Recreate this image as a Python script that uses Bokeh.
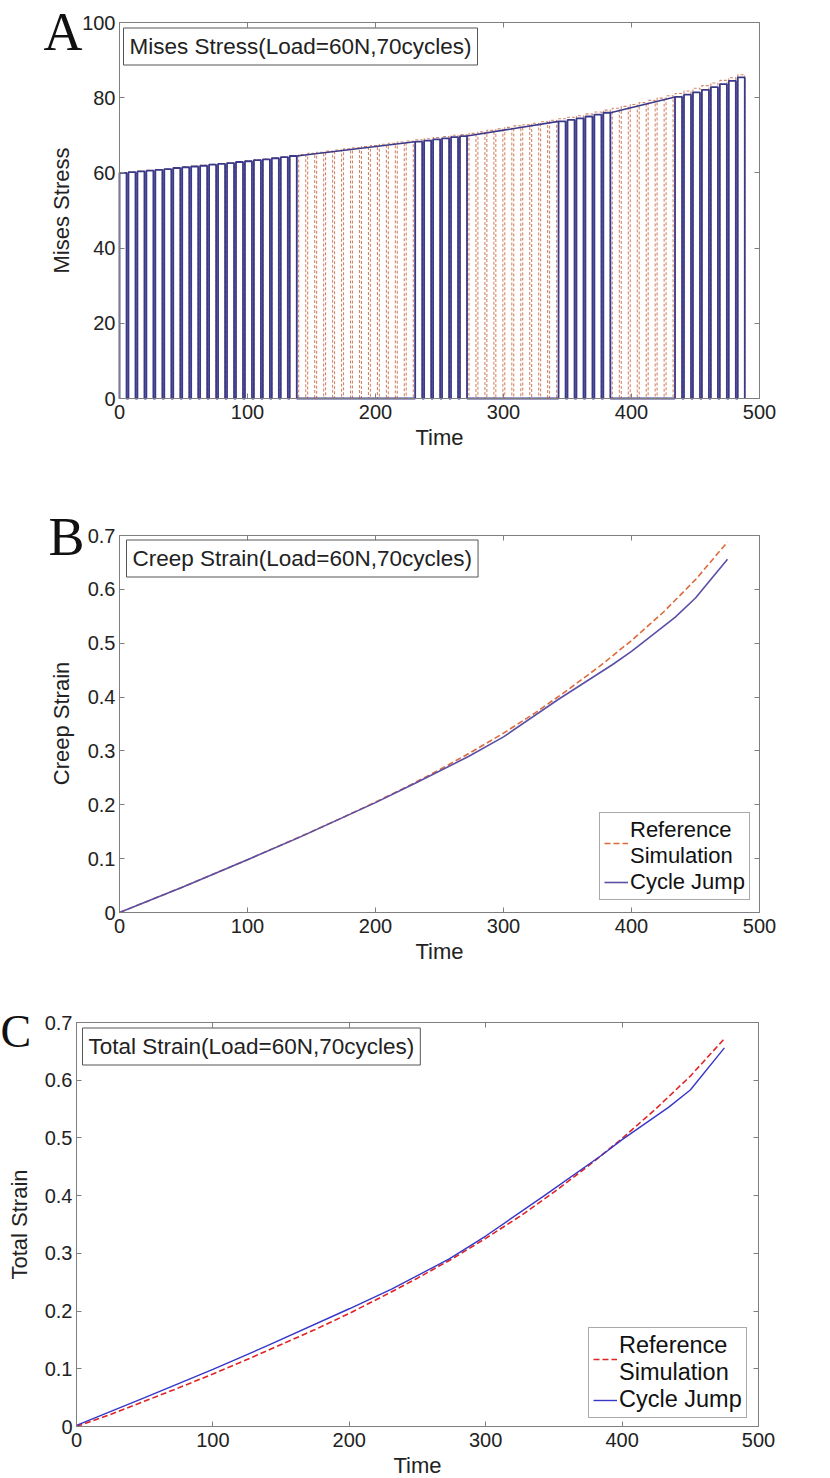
import math
from bokeh.plotting import figure
from bokeh.models import LinearAxis, Label, Legend, LegendItem, Range1d, FixedTicker
from bokeh.embed import file_html
from bokeh.resources import INLINE

# ---------------- data ----------------
# Panel A: Mises stress, 70 load cycles (cycle start times, hold length, period)
cycle_start = [0, 7, 14, 21, 28, 35, 42, 49, 56, 63, 70, 77, 84, 91, 98, 105, 112, 119, 126, 133,
               140, 147, 154, 161, 168, 175, 182, 189, 196, 203, 210, 217, 224, 231, 238, 245, 252,
               259, 266, 273, 280, 287, 294, 301, 308, 315, 322, 329, 336, 343, 350, 357, 364, 371,
               378, 385, 392, 399, 406, 413, 420, 427, 434, 441, 448, 455, 462, 469, 476, 483]
hold_time = 5.5
cycle_period = 7.0
ref_peak = [60.0, 60.2, 60.5, 60.7, 60.9, 61.1, 61.4, 61.6, 61.8, 62.0, 62.3, 62.5, 62.7, 63.0,
            63.2, 63.5, 63.7, 64.0, 64.3, 64.6, 64.9, 65.2, 65.5, 65.8, 66.1, 66.4, 66.7, 67.0,
            67.3, 67.6, 67.9, 68.2, 68.5, 68.8, 69.1, 69.4, 69.7, 70.0, 70.2, 70.5, 70.9, 71.3,
            71.7, 72.1, 72.5, 72.8, 73.2, 73.6, 74.0, 74.4, 74.8, 75.2, 75.7, 76.2, 76.7, 77.2,
            77.7, 78.2, 78.7, 79.3, 79.9, 80.5, 81.1, 81.8, 82.5, 83.2, 83.9, 84.6, 85.3, 86.1]
# cycles actually computed by the cycle-jump scheme (index into cycle_start) and their peaks
jump_blocks = [list(range(0, 20)), list(range(33, 39)), list(range(49, 55)), list(range(62, 70))]
jump_peak = {0: 60.0, 1: 60.2, 2: 60.4, 3: 60.6, 4: 60.8, 5: 61.0, 6: 61.3, 7: 61.5, 8: 61.7,
             9: 61.9, 10: 62.2, 11: 62.4, 12: 62.6, 13: 62.9, 14: 63.1, 15: 63.4, 16: 63.6,
             17: 63.9, 18: 64.2, 19: 64.5,
             33: 68.3, 34: 68.6, 35: 68.9, 36: 69.2, 37: 69.5, 38: 69.8,
             49: 73.7, 50: 74.1, 51: 74.5, 52: 75.0, 53: 75.5, 54: 76.0,
             62: 80.2, 63: 80.8, 64: 81.4, 65: 82.1, 66: 82.8, 67: 83.6, 68: 84.5, 69: 85.4}

# Panel B: creep strain
b_ref_t = [0, 25, 50, 75, 100, 125, 150, 175, 200, 225, 250, 275, 300, 325, 350, 375, 400, 425, 450, 475]
b_ref_v = [0.000, 0.024, 0.048, 0.073, 0.098, 0.124, 0.150, 0.177, 0.205, 0.234, 0.265, 0.298,
           0.333, 0.371, 0.413, 0.457, 0.505, 0.558, 0.618, 0.688]
b_cj_t = [0, 50, 100, 140, 200, 231, 273, 300, 343, 385, 400, 434, 450, 475]
b_cj_v = [0.000, 0.048, 0.098, 0.139, 0.204, 0.240, 0.290, 0.326, 0.396, 0.460, 0.485, 0.548, 0.584, 0.656]

# Panel C: total strain
c_ref_t = [0, 25, 50, 75, 100, 125, 150, 175, 200, 225, 250, 275, 300, 325, 350, 375, 400, 425, 450, 475]
c_ref_v = [0.000, 0.021, 0.044, 0.067, 0.091, 0.116, 0.142, 0.168, 0.196, 0.226, 0.257, 0.290,
           0.326, 0.364, 0.406, 0.451, 0.499, 0.551, 0.607, 0.672]
c_cj_t = [0, 50, 100, 140, 200, 231, 273, 300, 343, 385, 400, 434, 450, 475]
c_cj_v = [0.002, 0.050, 0.099, 0.140, 0.204, 0.238, 0.290, 0.330, 0.400, 0.470, 0.497, 0.553, 0.583, 0.656]

x_ticks = [0, 100, 200, 300, 400, 500]
a_y_ticks = [0, 20, 40, 60, 80, 100]
strain_ticks = [0, 0.1, 0.2, 0.3, 0.4, 0.5, 0.6, 0.7]

# ---------------- styling helpers ----------------
FONT = "Liberation Sans"
AX = "#7f7f7f"
W = 830


class Panel:
    """Figure whose frame fills the canvas; the visible box is drawn with fixed-location axes."""

    def __init__(self, H, px0, px1, py_top, py_bot, xmax, ymax):
        self.sx = xmax / (px1 - px0)
        self.xs = -px0 * self.sx
        self.sy = ymax / (py_bot - py_top)
        self.ys = -(H - py_bot) * self.sy
        self.ye = self.ys + H * self.sy
        self.xmax, self.ymax = xmax, ymax
        self.p = figure(width=W, height=H,
                        x_range=Range1d(self.xs, self.xs + W * self.sx),
                        y_range=Range1d(self.ys, self.ye),
                        output_backend="svg", toolbar_location=None, min_border=0)
        p = self.p
        p.xgrid.grid_line_color = None
        p.ygrid.grid_line_color = None
        p.outline_line_color = None
        p.background_fill_color = "white"
        p.border_fill_color = "white"

    def dx(self, px):
        return self.xs + px * self.sx

    def dy(self, py):
        return self.ye - py * self.sy

    def axes(self, xt, yt, yover=None):
        p = self.p
        xa, ya = p.xaxis[0], p.yaxis[0]
        xa.ticker = FixedTicker(ticks=xt)
        ya.ticker = FixedTicker(ticks=yt)
        if yover:
            ya.major_label_overrides = yover
        xa.fixed_location = 0
        ya.fixed_location = 0
        xa.bounds = (0, self.xmax)
        ya.bounds = (0, self.ymax)
        xa.major_label_standoff = 6
        ya.major_label_standoff = 4
        top = LinearAxis(ticker=FixedTicker(ticks=xt), fixed_location=self.ymax, bounds=(0, self.xmax))
        right = LinearAxis(ticker=FixedTicker(ticks=yt), fixed_location=self.xmax, bounds=(0, self.ymax))
        for ax in (top, right):
            ax.major_label_text_font_size = "0px"
            ax.major_label_standoff = 0
        p.add_layout(top, "above")
        p.add_layout(right, "right")
        for ax in (xa, ya, top, right):
            ax.axis_line_color = AX
            ax.major_tick_line_color = AX
            ax.major_tick_in = 5
            ax.major_tick_out = 0
            ax.minor_tick_line_color = None
        for ax in (xa, ya):
            ax.major_label_text_font = FONT
            ax.major_label_text_font_size = "20px"
            ax.major_label_text_color = "#222222"

    def text(self, px, py, text, size, font=FONT, align="left", baseline="middle", angle=0.0,
             color="#222222", box=False):
        kw = {}
        if box:
            kw = dict(border_line_color="#555555", border_line_width=1,
                      background_fill_color="white", padding=6)
        self.p.add_layout(Label(x=self.dx(px), y=self.dy(py), text=text, text_font=font,
                                text_font_size=size, text_color=color, text_align=align,
                                text_baseline=baseline, angle=angle, **kw))


def style_legend(lg, size):
    lg.label_text_font = FONT
    lg.label_text_font_size = size
    lg.label_text_color = "#111111"
    lg.border_line_color = "#555555"
    lg.background_fill_color = "white"
    lg.background_fill_alpha = 1.0
    lg.glyph_width = 24
    lg.label_standoff = 2
    lg.spacing = 0
    lg.padding = 4
    lg.margin = 0


# ---------------- Panel A ----------------
A = Panel(480, 119, 759, 22, 398, 500, 100)
A.axes(x_ticks, a_y_ticks)
pa = A.p

# reference simulation: every cycle
rx, ry = [], []
for t0, pk in zip(cycle_start, ref_peak):
    rx += [t0, t0, t0 + hold_time, t0 + hold_time, t0 + cycle_period]
    ry += [0, pk, pk, 0, 0]
pa.line(rx, ry, line_color="#d3876a", line_width=1.1, line_dash="3 2")

# cycle jump: computed cycles + straight jumps between blocks
bx, by = [], []
top_xs, top_ys = [], []
for bi, blk in enumerate(jump_blocks):
    for k in blk:
        t0 = cycle_start[k]
        pk = jump_peak[k]
        bx += [t0, t0, t0 + hold_time, t0 + hold_time]
        by += [0, pk, pk, 0]
    if bi + 1 < len(jump_blocks):
        kl = blk[-1]
        kn = jump_blocks[bi + 1][0]
        top_xs.append([cycle_start[kl] + hold_time, cycle_start[kn]])
        top_ys.append([jump_peak[kl], jump_peak[kn]])
pa.line(bx, by, line_color="#3b3989", line_width=1.8)
pa.multi_line(top_xs, top_ys, line_color="#3b3989", line_width=1.6)

A.text(123, 46, "Mises Stress(Load=60N,70cycles)", "22.5px", box=True)
A.text(43, 31, "A", "54px", font="Liberation Serif", color="#111111")
A.text(439, 437, "Time", "22px", align="center")
A.text(61, 210, "Mises Stress", "22px", align="center", angle=math.pi / 2)

# ---------------- Panel B ----------------
B = Panel(500, 119, 759, 55, 432, 500, 0.7)
B.axes(x_ticks, strain_ticks, {0: "0"})
pb = B.p
rb = pb.line(b_ref_t, b_ref_v, line_color="#dd6a3c", line_width=1.6, line_dash="6 3")
cb = pb.line(b_cj_t, b_cj_v, line_color="#5a4fa6", line_width=1.6)
lb = Legend(items=[LegendItem(label="Reference\nSimulation", renderers=[rb]),
                   LegendItem(label="Cycle Jump", renderers=[cb])],
            location=(599, 80))
pb.add_layout(lb)
style_legend(lb, "22px")
B.text(126, 78, "Creep Strain(Load=60N,70cycles)", "22.5px", box=True)
B.text(48, 56, "B", "54px", font="Liberation Serif", color="#111111")
B.text(439, 471, "Time", "22px", align="center")
B.text(61, 243, "Creep Strain", "22px", align="center", angle=math.pi / 2)

# ---------------- Panel C ----------------
C = Panel(498, 76, 758, 42, 446, 500, 0.7)
C.axes(x_ticks, strain_ticks, {0: "0"})
pc = C.p
rc = pc.line(c_ref_t, c_ref_v, line_color="#e02424", line_width=1.6, line_dash="6 3")
cc = pc.line(c_cj_t, c_cj_v, line_color="#3636c8", line_width=1.4)
lc = Legend(items=[LegendItem(label="Reference\nSimulation", renderers=[rc]),
                   LegendItem(label="Cycle Jump", renderers=[cc])],
            location=(588, 60))
pc.add_layout(lc)
style_legend(lc, "23.5px")
C.text(82, 66, "Total Strain(Load=60N,70cycles)", "22.5px", box=True)
C.text(0, 51, "C", "46px", font="Liberation Serif", color="#111111")
C.text(417, 485, "Time", "22px", align="center")
C.text(19, 244, "Total Strain", "22px", align="center", angle=math.pi / 2)

open("out.html", "w").write(file_html([pa, pb, pc], INLINE))
